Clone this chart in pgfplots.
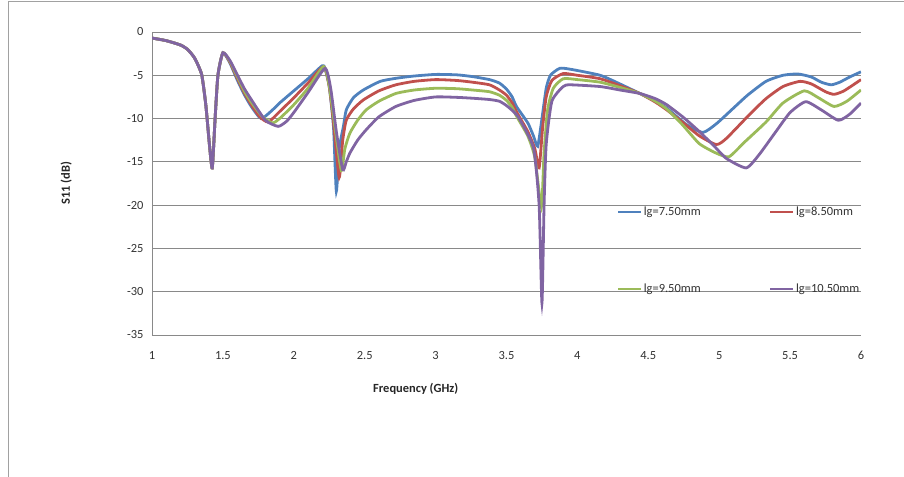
\documentclass[border=0pt]{standalone}
\usepackage{fontspec}
\setmainfont{Carlito}
\usepackage{pgfplots}
\pgfplotsset{compat=1.18}
\definecolor{xlblue}{HTML}{4F81BD}
\definecolor{xlred}{HTML}{C0504D}
\definecolor{xlgreen}{HTML}{9BBB59}
\definecolor{xlpurple}{HTML}{8064A2}
\definecolor{gridgray}{HTML}{898989}
\begin{document}
\begin{tikzpicture}
\useasboundingbox (0bp,0bp) rectangle (904bp,477bp);
\draw[gridgray!80, line width=0.8bp] (8.5bp,0bp) -- (8.5bp,475.5bp) -- (904bp,475.5bp);
\begin{axis}[
  at={(152bp,142bp)}, anchor=south west,
  scale only axis, width=709bp, height=303bp,
  xmin=1, xmax=6, ymin=-35, ymax=0,
  xtick={1,1.5,...,6}, ytick={-35,-30,...,0},
  axis lines*=left,
  axis line style={gridgray, line width=0.8bp},
  ymajorgrids, grid style={gridgray, line width=0.8bp},
  major tick length=0pt,
  /pgf/number format/assume math mode=true,
  ticklabel style={font=\fontsize{12.5}{15}\selectfont, text=black!80},
  yticklabel style={xshift=-5bp},
  xticklabel style={yshift=-13bp},
  xlabel={\textbf{Frequency (GHz)}},
  ylabel={\textbf{S11 (dB)}},
  label style={font=\fontsize{12.5}{15}\selectfont, text=black!85},
  xlabel style={at={(axis description cs:0.372,-0.178)}, anchor=center},
  ylabel style={at={(axis description cs:-0.121,0.5)}, anchor=center},
  legend columns=2,
  legend cell align=left,
  legend image code/.code={\draw[#1, line width=1.4bp] (0bp,0bp) -- (23bp,0bp);},
  legend style={at={(axis description cs:0.652,0.437)}, anchor=north west,
    draw=none, fill=none, font=\fontsize{12.5}{15}\selectfont, text=black!80,
    row sep=63bp,
    /tikz/every even column/.append style={column sep=67bp}},
  every axis plot/.append style={line width=2.8bp, smooth, tension=0.35},
]
\addplot[xlblue] coordinates {
(1.00,-0.7) (1.10,-1.0) (1.20,-1.5) (1.25,-2.0) (1.30,-3.0) (1.35,-4.9) (1.38,-8.5) (1.405,-13.0) (1.425,-15.7) (1.445,-10.0) (1.465,-5.0) (1.50,-2.4)
(1.55,-3.6) (1.60,-5.5) (1.65,-7.2) (1.70,-8.6) (1.77,-10.0) (1.85,-9.0) (1.90,-8.2) (2.00,-6.8) (2.10,-5.4) (2.20,-3.9)
(2.22,-4.2) (2.25,-6.3) (2.28,-11.0) (2.30,-18.4) (2.32,-13.5) (2.35,-10.9) (2.37,-9.0) (2.42,-7.6) (2.49,-6.7) (2.61,-5.7) (2.72,-5.35) (2.84,-5.1)
(3.00,-4.9) (3.15,-4.95) (3.26,-5.15) (3.38,-5.5) (3.45,-5.9) (3.50,-6.6) (3.54,-7.5) (3.57,-8.6) (3.65,-10.5) (3.69,-12.0) (3.72,-13.2) (3.75,-10.0) (3.78,-6.5) (3.81,-5.0) (3.875,-4.2) (3.95,-4.3)
(4.16,-5.0) (4.30,-6.0) (4.44,-7.1) (4.55,-8.0) (4.63,-8.8) (4.77,-10.7) (4.885,-11.6) (4.98,-10.6) (5.10,-8.8) (5.20,-7.3) (5.33,-5.7) (5.45,-5.0)
(5.555,-4.85) (5.65,-5.2) (5.72,-5.8) (5.79,-6.1) (5.85,-5.8) (5.92,-5.2) (6.00,-4.6)
};
\addlegendentry{lg=7.50mm}
\addplot[xlred] coordinates {
(1.00,-0.7) (1.10,-1.0) (1.20,-1.5) (1.25,-2.0) (1.30,-3.0) (1.35,-4.9) (1.38,-8.5) (1.405,-13.0) (1.425,-15.7) (1.445,-10.0) (1.465,-5.0) (1.50,-2.4)
(1.55,-3.5) (1.60,-5.3) (1.65,-7.0) (1.70,-8.4) (1.76,-9.8) (1.82,-10.4) (1.90,-9.2) (2.00,-7.6) (2.10,-5.9) (2.21,-4.0)
(2.25,-6.3) (2.28,-10.5) (2.32,-16.8) (2.345,-12.5) (2.37,-10.2) (2.42,-8.9) (2.49,-7.85) (2.60,-6.8) (2.72,-6.1) (2.85,-5.7)
(3.00,-5.5) (3.15,-5.6) (3.26,-5.8) (3.38,-6.1) (3.45,-6.7) (3.50,-7.3) (3.54,-8.2) (3.57,-9.2) (3.65,-11.5) (3.70,-13.5) (3.73,-15.7) (3.755,-11.0) (3.78,-7.5) (3.82,-5.6) (3.90,-4.8) (4.00,-5.0)
(4.16,-5.4) (4.30,-6.2) (4.44,-7.1) (4.55,-8.1) (4.63,-9.0) (4.74,-10.4) (4.86,-12.0) (4.98,-13.0) (5.05,-12.3) (5.21,-9.6) (5.33,-7.7) (5.45,-6.3)
(5.57,-5.7) (5.65,-6.0) (5.75,-6.9) (5.81,-7.2) (5.88,-6.8) (6.00,-5.5)
};
\addlegendentry{lg=8.50mm}
\addplot[xlgreen] coordinates {
(1.00,-0.7) (1.10,-1.0) (1.20,-1.5) (1.25,-2.0) (1.30,-3.0) (1.35,-4.9) (1.38,-8.5) (1.405,-13.0) (1.425,-15.7) (1.445,-10.0) (1.465,-5.0) (1.50,-2.4)
(1.55,-3.4) (1.60,-5.1) (1.65,-6.8) (1.70,-8.1) (1.78,-9.8) (1.85,-10.5) (1.90,-10.0) (2.00,-8.4) (2.10,-6.5) (2.21,-4.0)
(2.25,-6.2) (2.29,-11.0) (2.335,-16.0) (2.36,-13.5) (2.395,-11.7) (2.45,-10.2) (2.51,-9.0) (2.60,-8.0) (2.72,-7.1) (2.85,-6.7)
(3.00,-6.5) (3.15,-6.55) (3.26,-6.7) (3.38,-6.9) (3.45,-7.3) (3.50,-7.9) (3.54,-8.7) (3.57,-9.7) (3.65,-12.0) (3.70,-14.5) (3.746,-20.2) (3.765,-14.0) (3.79,-9.0) (3.83,-6.5) (3.90,-5.4) (4.00,-5.5)
(4.16,-5.8) (4.30,-6.4) (4.44,-7.1) (4.55,-8.0) (4.63,-8.9) (4.74,-10.7) (4.86,-12.9) (4.98,-14.0) (5.07,-14.4) (5.18,-12.7) (5.33,-10.4) (5.45,-8.2)
(5.60,-6.8) (5.70,-7.6) (5.81,-8.6) (5.90,-8.0) (6.00,-6.7)
};
\addlegendentry{lg=9.50mm}
\addplot[xlpurple] coordinates {
(1.00,-0.7) (1.10,-1.0) (1.20,-1.5) (1.25,-2.0) (1.30,-3.0) (1.35,-4.9) (1.38,-8.5) (1.405,-13.0) (1.425,-15.7) (1.445,-10.0) (1.465,-5.0) (1.50,-2.4)
(1.55,-3.3) (1.60,-4.9) (1.65,-6.5) (1.70,-7.8) (1.80,-10.2) (1.89,-10.9) (1.95,-10.3) (2.00,-9.3) (2.10,-7.0) (2.22,-4.2)
(2.26,-6.5) (2.30,-11.5) (2.345,-15.9) (2.37,-15.0) (2.395,-14.0) (2.45,-12.5) (2.51,-11.3) (2.60,-9.8) (2.72,-8.6) (2.85,-7.9)
(3.00,-7.5) (3.15,-7.55) (3.26,-7.65) (3.38,-7.8) (3.45,-8.0) (3.50,-8.5) (3.55,-9.2) (3.59,-10.0) (3.69,-13.4) (3.73,-20.0) (3.75,-31.3) (3.765,-20.0) (3.78,-13.0) (3.82,-8.0) (3.90,-6.3) (3.95,-6.1)
(4.16,-6.3) (4.30,-6.7) (4.44,-7.1) (4.55,-7.7) (4.63,-8.4) (4.75,-9.9) (4.86,-11.5) (4.96,-13.1) (5.05,-14.6) (5.19,-15.7) (5.28,-14.2) (5.40,-11.5)
(5.50,-9.3) (5.61,-8.05) (5.72,-9.0) (5.84,-10.2) (5.92,-9.5) (6.00,-8.2)
};
\addlegendentry{lg=10.50mm}
\end{axis}
\end{tikzpicture}
\end{document}
